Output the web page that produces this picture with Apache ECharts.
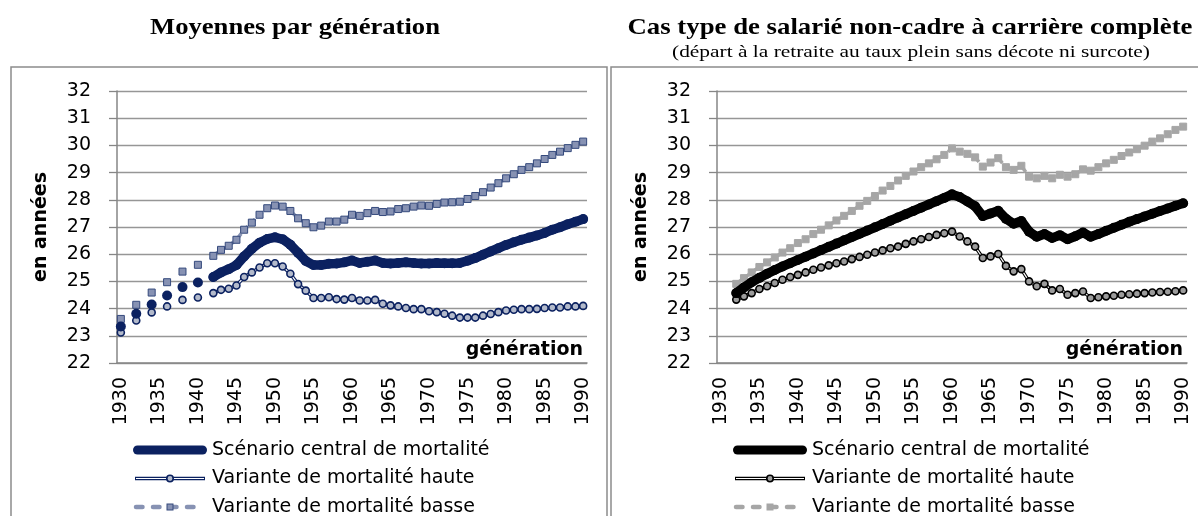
<!DOCTYPE html>
<html>
<head>
<meta charset="utf-8">
<script src="https://cdn.jsdelivr.net/npm/echarts@6/dist/echarts.min.js"></script>
<style>
  html, body { margin: 0; padding: 0; background: #fff; }
  #chart { width: 1198px; height: 516px; }
</style>
</head>
<body>
<div id="chart"></div>
<script>
// Generations on the horizontal axis
const years = [
  1930, 1931, 1932, 1933, 1934, 1935, 1936, 1937, 1938, 1939,
  1940, 1941, 1942, 1943, 1944, 1945, 1946, 1947, 1948, 1949,
  1950, 1951, 1952, 1953, 1954, 1955, 1956, 1957, 1958, 1959,
  1960, 1961, 1962, 1963, 1964, 1965, 1966, 1967, 1968, 1969,
  1970, 1971, 1972, 1973, 1974, 1975, 1976, 1977, 1978, 1979,
  1980, 1981, 1982, 1983, 1984, 1985, 1986, 1987, 1988, 1989, 1990
];

const seriesNames = [
  'Scénario central de mortalité',
  'Variante de mortalité haute',
  'Variante de mortalité basse'
];

// Averages by generation (years spent in retirement); only even years before 1942
const avgCentral = [
  23.34, null, 23.81, null, 24.15, null, 24.48, null, 24.79, null,
  24.96, null, 25.16, 25.33, 25.45, 25.60, 25.92, 26.20, 26.42, 26.56,
  26.62, 26.55, 26.35, 26.05, 25.75, 25.60, 25.60, 25.65, 25.66, 25.70,
  25.77, 25.68, 25.72, 25.77, 25.68, 25.66, 25.68, 25.70, 25.68, 25.66,
  25.66, 25.68, 25.67, 25.67, 25.68, 25.76, 25.86, 25.98, 26.10, 26.22,
  26.34, 26.44, 26.53, 26.61, 26.69, 26.78, 26.90, 26.99, 27.10, 27.19, 27.29
];
const avgHigh = [
  23.12, null, 23.56, null, 23.86, null, 24.08, null, 24.32, null,
  24.41, null, 24.57, 24.69, 24.73, 24.85, 25.16, 25.33, 25.51, 25.67,
  25.67, 25.55, 25.28, 24.90, 24.66, 24.39, 24.39, 24.42, 24.35, 24.33,
  24.39, 24.30, 24.30, 24.32, 24.18, 24.12, 24.08, 24.02, 23.98, 23.98,
  23.90, 23.87, 23.81, 23.74, 23.67, 23.67, 23.67, 23.74, 23.80, 23.87,
  23.93, 23.96, 23.98, 23.98, 23.99, 24.02, 24.04, 24.04, 24.08, 24.08, 24.10
];
const avgLow = [
  23.62, null, 24.14, null, 24.59, null, 24.97, null, 25.36, null,
  25.61, null, 25.94, 26.16, 26.31, 26.53, 26.90, 27.16, 27.45, 27.69,
  27.79, 27.75, 27.59, 27.32, 27.14, 26.99, 27.05, 27.20, 27.20, 27.27,
  27.45, 27.41, 27.51, 27.59, 27.55, 27.57, 27.66, 27.69, 27.75, 27.79,
  27.78, 27.85, 27.90, 27.91, 27.93, 28.03, 28.14, 28.28, 28.45, 28.61,
  28.79, 28.94, 29.10, 29.20, 29.34, 29.50, 29.65, 29.77, 29.90, 30.02, 30.14
];

// Typical non-executive employee with a full career, from generation 1932
const caseCentral = [
  null, null, 24.57, 24.78, 24.97, 25.13, 25.28, 25.42, 25.55, 25.67,
  25.79, 25.91, 26.03, 26.15, 26.27, 26.39, 26.51, 26.63, 26.75, 26.87,
  26.99, 27.11, 27.23, 27.35, 27.47, 27.59, 27.71, 27.83, 27.95, 28.07,
  28.20, 28.10, 27.94, 27.76, 27.40, 27.50, 27.60, 27.30, 27.12, 27.22,
  26.83, 26.64, 26.74, 26.60, 26.70, 26.55, 26.66, 26.80, 26.64, 26.74,
  26.86, 26.97, 27.08, 27.19, 27.29, 27.39, 27.49, 27.59, 27.68, 27.78, 27.87
];
const caseHigh = [
  null, null, 24.33, 24.45, 24.57, 24.72, 24.82, 24.94, 25.06, 25.16,
  25.24, 25.33, 25.43, 25.51, 25.59, 25.67, 25.73, 25.82, 25.90, 25.98,
  26.06, 26.14, 26.22, 26.28, 26.38, 26.47, 26.55, 26.63, 26.71, 26.77,
  26.83, 26.65, 26.47, 26.28, 25.86, 25.92, 26.01, 25.57, 25.37, 25.45,
  25.00, 24.82, 24.91, 24.67, 24.72, 24.51, 24.57, 24.63, 24.39, 24.42,
  24.45, 24.47, 24.51, 24.53, 24.55, 24.57, 24.59, 24.61, 24.62, 24.64, 24.67
];
const caseLow = [
  null, null, 24.91, 25.12, 25.33, 25.53, 25.70, 25.88, 26.06, 26.22,
  26.41, 26.55, 26.74, 26.90, 27.06, 27.24, 27.41, 27.59, 27.78, 27.96,
  28.14, 28.34, 28.51, 28.71, 28.88, 29.04, 29.20, 29.34, 29.49, 29.65,
  29.89, 29.77, 29.69, 29.56, 29.22, 29.37, 29.53, 29.20, 29.10, 29.25,
  28.85, 28.79, 28.88, 28.79, 28.92, 28.85, 28.94, 29.12, 29.07, 29.20,
  29.34, 29.47, 29.61, 29.74, 29.86, 29.99, 30.14, 30.26, 30.41, 30.57, 30.69
];

const SANS = 'DejaVu Sans';
const SERIF = 'Liberation Serif';

const palettes = [
  { main: '#0b2160', highFill: '#b3bacb', lowFill: '#8792b3', lowBorder: '#34497c' },
  { main: '#000000', highFill: '#9c9c9c', lowFill: '#a6a6a6', lowBorder: '#a6a6a6' }
];

// Legend glyphs drawn as small inline SVG images
function svgIcon(body) {
  const svg = "<svg xmlns='http://www.w3.org/2000/svg' width='74' height='14'>" + body + "</svg>";
  return 'image://data:image/svg+xml;charset=utf-8,' + encodeURIComponent(svg);
}
function legendIcons(p) {
  return [
    svgIcon(`<line x1='4.5' y1='7' x2='69.5' y2='7' stroke='${p.main}' stroke-width='9' stroke-linecap='round'/>`),
    svgIcon(`<line x1='2' y1='7' x2='72' y2='7' stroke='${p.main}' stroke-width='3.4'/>` +
            `<line x1='3' y1='7' x2='71' y2='7' stroke='#ffffff' stroke-width='1.2'/>` +
            `<circle cx='37' cy='7' r='3.2' fill='${p.highFill}' stroke='${p.main}' stroke-width='1.6'/>`),
    svgIcon(`<line x1='3' y1='7' x2='71' y2='7' stroke='${p.lowFill}' stroke-width='4.5' stroke-linecap='round' stroke-dasharray='6.5 10.5'/>` +
            `<rect x='34' y='4' width='6' height='6' fill='${p.lowFill}' stroke='${p.lowBorder}' stroke-width='1'/>`)
  ];
}

function makeLegend(idx, left) {
  const icons = legendIcons(palettes[idx]);
  return {
    orient: 'vertical', left: left, top: 439, width: 420, height: 120, padding: 0,
    itemWidth: 74, itemHeight: 14, itemGap: 6.5, selectedMode: false,
    textStyle: { fontFamily: SANS, fontSize: 19, color: '#000', lineHeight: 22 },
    data: seriesNames.map((n, i) => ({ name: n, icon: icons[i] }))
  };
}

function makeGrid(left) {
  return { left: left, top: 91, width: 470, height: 272 };
}

function makeXAxis(gi) {
  return {
    type: 'category', gridIndex: gi, data: years, boundaryGap: true,
    name: 'génération', nameLocation: 'end', nameGap: -4,
    nameTextStyle: { fontFamily: SANS, fontSize: 19, fontWeight: 'bold', color: '#000',
                     align: 'right', verticalAlign: 'bottom', padding: [0, 0, 3, 0] },
    axisLine: { lineStyle: { color: '#868686', width: 1.5 } },
    axisTick: { interval: 0, length: 5, lineStyle: { color: '#868686', width: 1 } },
    axisLabel: { interval: 4, rotate: 90, margin: 14, fontFamily: SANS, fontSize: 19, color: '#000' },
    splitLine: { show: false }
  };
}

function makeYAxis(gi) {
  return {
    type: 'value', gridIndex: gi, min: 22, max: 32, interval: 1,
    name: 'en années', nameLocation: 'middle', nameGap: 66, nameRotate: 90,
    nameTextStyle: { fontFamily: SANS, fontSize: 19, fontWeight: 'bold', color: '#000' },
    axisLine: { show: true, lineStyle: { color: '#868686', width: 1.5 } },
    axisTick: { show: true, length: 8, lineStyle: { color: '#868686', width: 1.3 } },
    axisLabel: { margin: 26, fontFamily: SANS, fontSize: 19, color: '#000' },
    splitLine: { show: true, lineStyle: { color: '#969696', width: 1.3 } }
  };
}

function makeSeries(gi, central, high, low) {
  const p = palettes[gi];
  const common = { type: 'line', xAxisIndex: gi, yAxisIndex: gi, connectNulls: false, animation: false };
  return [
    // high-mortality variant: double line (dark outline, white core) then markers on top
    Object.assign({}, common, { id: 'high-outline-' + gi, data: high, symbol: 'none',
      lineStyle: { color: p.main, width: 3.4 }, z: 2 }),
    Object.assign({}, common, { id: 'high-core-' + gi, data: high, symbol: 'none',
      lineStyle: { color: '#ffffff', width: 1.2 }, z: 2 }),
    Object.assign({}, common, { name: seriesNames[1], data: high, symbol: 'circle', symbolSize: 7,
      showSymbol: true, showAllSymbol: true,
      itemStyle: { color: p.highFill, borderColor: p.main, borderWidth: 1.6 },
      lineStyle: { opacity: 0, width: 0 }, z: 2 }),
    // low-mortality variant
    Object.assign({}, common, { name: seriesNames[2], data: low, symbol: 'rect', symbolSize: 7,
      showSymbol: true, showAllSymbol: true,
      itemStyle: { color: p.lowFill, borderColor: p.lowBorder, borderWidth: 1 },
      lineStyle: { color: p.lowFill, width: 3.5, type: [6, 4] }, z: 3 }),
    // central scenario
    Object.assign({}, common, { name: seriesNames[0], data: central, symbol: 'circle', symbolSize: 10,
      showSymbol: true, showAllSymbol: true,
      itemStyle: { color: p.main },
      lineStyle: { color: p.main, width: 9.5, cap: 'round', join: 'round' }, z: 4 })
  ];
}

// Headings stretched horizontally to their set widths
const measureCtx = document.createElement('canvas').getContext('2d');
function stretchedText(text, font, cx, cy, targetWidth) {
  measureCtx.font = font;
  const w = measureCtx.measureText(text).width;
  return {
    type: 'text', x: cx, y: cy, scaleX: targetWidth / w, scaleY: 1, silent: true,
    style: { text: text, font: font, fill: '#000', align: 'center', verticalAlign: 'middle',
             textAlign: 'center', textVerticalAlign: 'middle' }
  };
}

const option = {
  animation: false,
  backgroundColor: '#ffffff',
  grid: [makeGrid(117), makeGrid(717)],
  xAxis: [makeXAxis(0), makeXAxis(1)],
  yAxis: [makeYAxis(0), makeYAxis(1)],
  legend: [makeLegend(0, 133), makeLegend(1, 733)],
  series: makeSeries(0, avgCentral, avgHigh, avgLow).concat(makeSeries(1, caseCentral, caseHigh, caseLow)),
  graphic: [
    { type: 'rect', silent: true, shape: { x: 11, y: 67, width: 596, height: 470 },
      style: { fill: 'none', stroke: '#8c8c8c', lineWidth: 1.5 } },
    { type: 'rect', silent: true, shape: { x: 611, y: 67, width: 600, height: 470 },
      style: { fill: 'none', stroke: '#8c8c8c', lineWidth: 1.5 } },
    stretchedText('Moyennes par génération', 'bold 23px "' + SERIF + '"', 295, 28, 290),
    stretchedText('Cas type de salarié non-cadre à carrière complète', 'bold 23px "' + SERIF + '"', 910, 28, 565),
    stretchedText('(départ à la retraite au taux plein sans décote ni surcote)', '17px "' + SERIF + '"', 911, 53, 478)
  ]
};

const chart = echarts.init(document.getElementById('chart'), null, { renderer: 'canvas' });
chart.setOption(option);
</script>
</body>
</html>
